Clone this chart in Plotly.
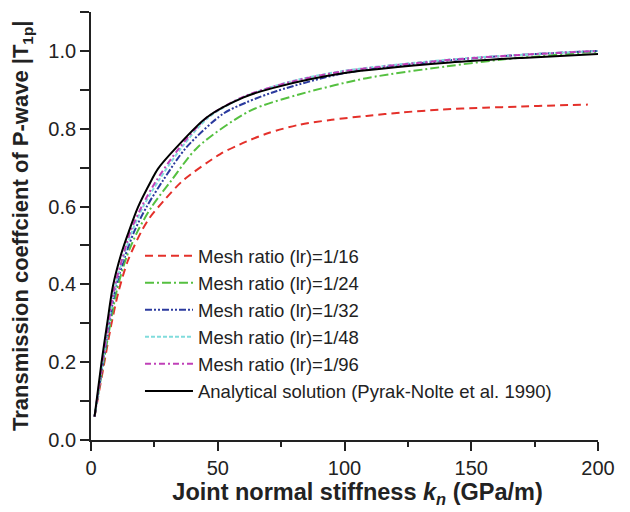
import plotly.graph_objects as go

# Joint normal stiffness kn (GPa/m) and transmission coefficient |T1p|
k_r16 = [1.4, 5, 7.8, 10.8, 14.5, 19.8, 23, 29, 36.3, 51, 58.8, 70, 82, 95, 108.7, 123, 137.7, 155, 170, 183, 196]
t_r16 = [0.06, 0.19, 0.29, 0.38, 0.46, 0.535, 0.57, 0.617, 0.667, 0.735, 0.76, 0.789, 0.81, 0.823, 0.833, 0.842, 0.849, 0.854, 0.857, 0.86, 0.862]

k_r24 = [1.4, 4.7, 7.4, 10.2, 14, 18.5, 24, 31.7, 42, 62.7, 82, 108.7, 140, 164, 200]
t_r24 = [0.06, 0.19, 0.29, 0.385, 0.47, 0.538, 0.6, 0.667, 0.752, 0.846, 0.888, 0.93, 0.96, 0.979, 0.998]

k_r32 = [1.4, 4.5, 7, 9.7, 13.3, 17.2, 22, 28.4, 37.6, 52, 61.4, 73.3, 100, 140, 170, 200]
t_r32 = [0.06, 0.19, 0.29, 0.39, 0.47, 0.538, 0.6, 0.667, 0.752, 0.838, 0.868, 0.897, 0.943, 0.975, 0.99, 1.0]

k_r48 = [1.4, 4.4, 6.8, 9.4, 12.8, 16.3, 20.6, 26.7, 35.8, 46, 60, 78.5, 100, 141.6, 170, 200]
t_r48 = [0.06, 0.19, 0.29, 0.39, 0.47, 0.538, 0.6, 0.667, 0.752, 0.827, 0.881, 0.921, 0.949, 0.978, 0.99, 1.0]

k_r96 = [1.4, 4.3, 6.7, 9.2, 12.5, 15.7, 20, 25.8, 35, 45.6, 60, 78.5, 100, 141.6, 170, 200]
t_r96 = [0.06, 0.19, 0.29, 0.39, 0.47, 0.538, 0.6, 0.667, 0.752, 0.828, 0.882, 0.92, 0.948, 0.977, 0.99, 1.0]

k_an = [1.4, 4.1, 6.4, 8.7, 12, 14.6, 18.5, 23.8, 26.4, 33.7, 45.6, 60, 72, 100, 141.6, 170, 200]
t_an = [0.06, 0.197, 0.30, 0.397, 0.48, 0.53, 0.598, 0.667, 0.697, 0.752, 0.829, 0.88, 0.905, 0.943, 0.970, 0.982, 0.992]

x_ticks = [0, 50, 100, 150, 200]
y_ticks = [0.0, 0.2, 0.4, 0.6, 0.8, 1.0]
y_ticklabels = ["0.0", "0.2", "0.4", "0.6", "0.8", "1.0"]

y_title = "<b>Transmission coeffcient of P-wave |T<sub>1p</sub>|</b>"
x_title = "<b>&nbsp;&nbsp;&nbsp;&nbsp;Joint normal stiffness <i>k<sub>n</sub></i> (GPa/m)</b>"

series = [
    ("Mesh ratio (lr)=1/16", k_r16, t_r16, "#e4302a", "8px,5px"),
    ("Mesh ratio (lr)=1/24", k_r24, t_r24, "#55c040", "9px,3px,2px,3px"),
    ("Mesh ratio (lr)=1/32", k_r32, t_r32, "#2b3a9e", "7px,2px,2px,2px,2px,2px"),
    ("Mesh ratio (lr)=1/48", k_r48, t_r48, "#80dcdc", "4px,2px"),
    ("Mesh ratio (lr)=1/96", k_r96, t_r96, "#c040b8", "6px,3px,2px,3px"),
    ("Analytical solution (Pyrak-Nolte et al. 1990)", k_an, t_an, "#000000", "solid"),
]

fig = go.Figure()
for name, xs, ys, color, dash in series:
    fig.add_trace(go.Scatter(
        x=xs, y=ys, mode="lines", name=name,
        line=dict(color=color, width=2, dash=dash, shape="spline", smoothing=0.8),
    ))

fig.update_layout(
    width=630, height=512,
    margin=dict(l=91, r=32, t=12, b=72),
    paper_bgcolor="white", plot_bgcolor="white",
    font=dict(family="Liberation Sans, Arial, sans-serif", size=20, color="#222"),
    showlegend=True,
    legend=dict(
        x=0.0966, y=0.474, xanchor="left", yanchor="top",
        bgcolor="rgba(0,0,0,0)", borderwidth=0,
        font=dict(size=18.5, color="#222"),
        tracegroupgap=0, itemwidth=48,
    ),
    xaxis=dict(
        range=[0, 200], tickvals=x_ticks, ticks="outside", ticklen=9, tickwidth=1.5,
        showline=True, linecolor="#222", linewidth=1.8, showgrid=False, zeroline=False,
        minor=dict(dtick=25, ticks="outside", ticklen=5, tickwidth=1.5, tickcolor="#222", showgrid=False),
        tickcolor="#222", tickfont=dict(size=20),
        title=dict(text=x_title, font=dict(size=23.5, color="#222"), standoff=3),
    ),
    yaxis=dict(
        range=[0, 1.1], tickvals=y_ticks, ticktext=y_ticklabels, ticks="outside", ticklen=9, tickwidth=1.5,
        showline=True, linecolor="#222", linewidth=1.8, showgrid=False, zeroline=False,
        minor=dict(dtick=0.1, ticks="outside", ticklen=9, tickwidth=1.5, tickcolor="#222", showgrid=False),
        tickcolor="#222", tickfont=dict(size=20),
    ),
    annotations=[dict(
        text=y_title, textangle=-90, xref="paper", yref="paper",
        x=(22 - 91) / 507, y=0.5, xanchor="center", yanchor="middle",
        showarrow=False, font=dict(size=22, color="#222"),
    )],
)

fig.write_html("out.html")
